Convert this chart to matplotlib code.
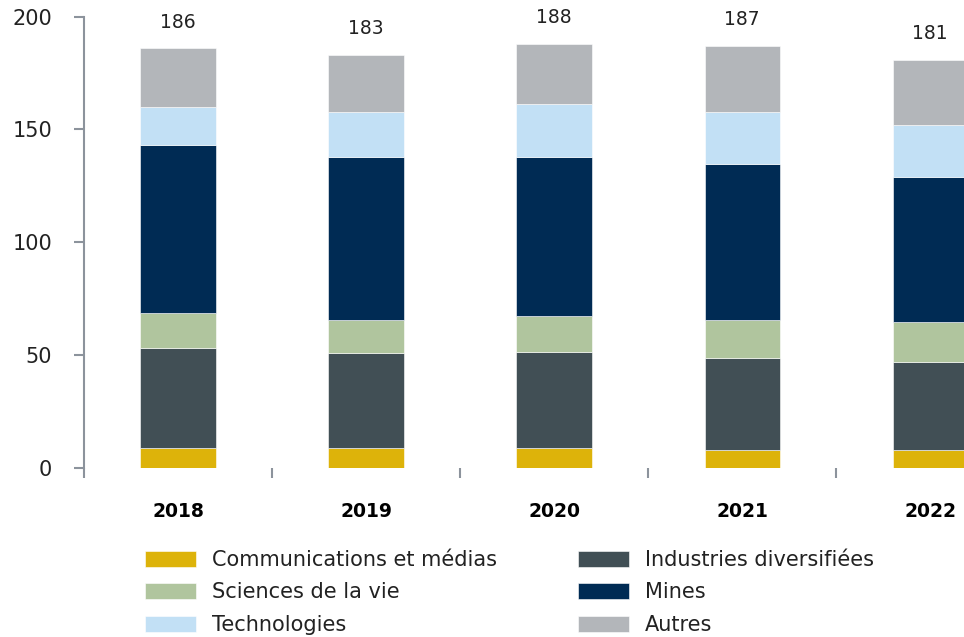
import matplotlib
matplotlib.use("Agg")
import matplotlib.pyplot as plt
import numpy as np

years = ["2018", "2019", "2020", "2021", "2022"]
communications = [8.7, 8.7, 8.7, 8.0, 8.0]
industries = [44.2, 42.0, 42.7, 40.5, 39.0]
sciences = [15.6, 14.8, 15.7, 17.0, 17.7]
mines = [74.5, 72.3, 70.7, 69.3, 64.2]
technologies = [17.0, 19.9, 23.6, 22.9, 22.9]
autres = [26.0, 25.3, 26.6, 29.3, 29.2]

series = [
    ("Communications et médias", communications, "#DDB30A"),
    ("Industries diversifiées", industries, "#414F55"),
    ("Sciences de la vie", sciences, "#B0C59E"),
    ("Mines", mines, "#002B54"),
    ("Technologies", technologies, "#C2E0F5"),
    ("Autres", autres, "#B3B6BA"),
]

plt.rcParams["font.family"] = ["DejaVu Sans"]
text_color = "#222222"
axis_color = "#8C939C"

fig = plt.figure(figsize=(9.64, 6.37), dpi=100)
ax = fig.add_axes([84 / 964, 0.2658, 880 / 964, 0.708])

x = np.arange(len(years))
bottom = np.zeros(len(years))
handles = {}
for name, vals, color in series:
    vals = np.array(vals)
    h = ax.bar(x, vals, width=0.4, bottom=bottom, color=color,
               edgecolor="white", linewidth=0.4)
    handles[name] = h
    bottom += vals

totals = bottom
for xi, t in zip(x, totals):
    ax.annotate(f"{t:.0f}", (xi, t), xytext=(0, 12), textcoords="offset points",
                ha="center", va="bottom", fontsize=13.5, color=text_color)

ax.set_xlim(-0.5, 4.18)
ax.set_ylim(0, 200)
ax.set_yticks([0, 50, 100, 150, 200])
ax.tick_params(axis="y", length=7, width=1.5, color=axis_color,
               labelsize=15, labelcolor=text_color, pad=16)

# year labels centred under the bars, separators between categories
ax.set_xticks(x)
ax.set_xticklabels(years, fontsize=13.5, fontweight="bold", color="#000000")
ax.tick_params(axis="x", which="major", length=0, pad=25)
ax.set_xticks(np.arange(-0.5, 4.0, 1.0), minor=True)
ax.tick_params(axis="x", which="minor", length=7, width=1.5, color=axis_color,
               direction="out")

for s in ["top", "right", "bottom"]:
    ax.spines[s].set_visible(False)
ax.spines["left"].set_color(axis_color)
ax.spines["left"].set_linewidth(1.5)

order = ["Communications et médias", "Sciences de la vie", "Technologies",
         "Industries diversifiées", "Mines", "Autres"]
fig.legend([handles[n] for n in order], order, ncol=2, loc="upper left",
           bbox_to_anchor=(145 / 964, 1 - 550 / 637), frameon=False,
           fontsize=15, handlelength=2.45, handleheight=0.8, handletextpad=0.75,
           labelspacing=0.6, columnspacing=3.9, labelcolor=text_color,
           borderpad=0, borderaxespad=0)

fig.savefig("out.png", dpi=100)
